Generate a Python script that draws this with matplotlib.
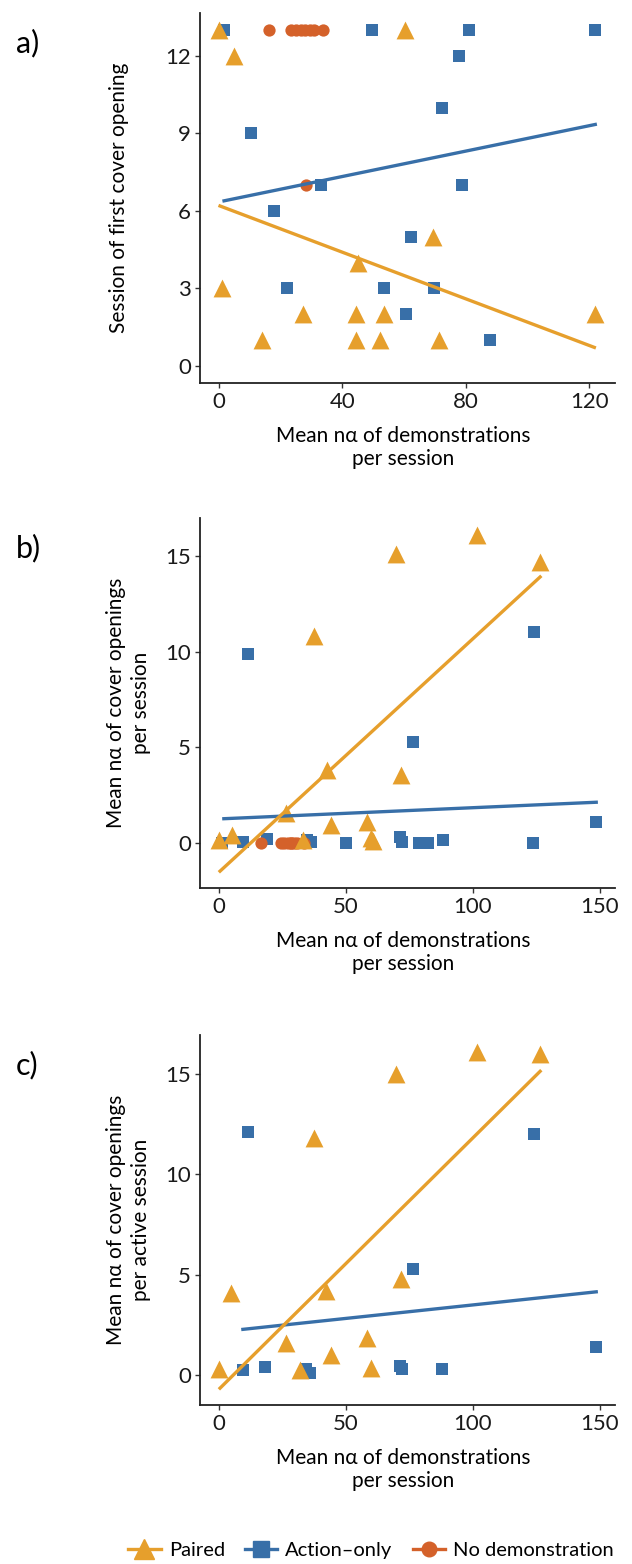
import numpy as np
import matplotlib.pyplot as plt
from matplotlib.lines import Line2D

plt.rcParams['font.family'] = ['Lato', 'DejaVu Sans']

PAIRED = '#E69F2C'
ACTION = '#386FA8'
NODEMO = '#D4612A'

# ---- panel a: session of first cover opening ----
a_paired_x = [0, 5, 1, 14, 27.3, 44.3, 45, 44.3, 53.4, 52.3, 60.5, 69.4, 71.2, 122]
a_paired_y = [13, 12, 3, 1, 2, 2, 4, 1, 2, 1, 13, 5, 1, 2]
a_action_x = [1.7, 10.4, 18, 22, 33.2, 49.6, 53.6, 60.8, 62.2, 69.8, 72.3, 78, 78.8, 81, 87.9, 122]
a_action_y = [13, 9, 6, 3, 7, 13, 3, 2, 5, 3, 10, 12, 7, 13, 1, 13]
a_nodemo_x = [16.3, 23.5, 25, 26.5, 28, 29.5, 31, 33.8, 28.4]
a_nodemo_y = [13, 13, 13, 13, 13, 13, 13, 13, 7]
a_fit_paired = ([0.4, 121.7], [6.19, 0.71])
a_fit_action = ([1.7, 122], [6.39, 9.35])

# ---- panel b: openings per session ----
b_paired_x = [0, 5.2, 26.3, 33, 37.7, 42.7, 44.3, 58.5, 59.8, 60.9, 70, 71.7, 101.7, 126.6]
b_paired_y = [0.17, 0.43, 1.56, 0.17, 10.8, 3.8, 0.95, 1.1, 0.26, 0.09, 15.1, 3.55, 16.1, 14.7]
b_action_x = [1.3, 9.5, 11.7, 19, 34.8, 36.4, 50.2, 71.2, 72.2, 79, 82.3, 88.3, 76.4, 123.9, 124.2, 148.7]
b_action_y = [0, 0.03, 9.9, 0.2, 0.14, 0.03, 0, 0.3, 0.03, 0, 0, 0.17, 5.3, 0, 11, 1.1]
b_nodemo_x = [16.6, 24.4, 25.8, 27.2, 28.4, 29.5, 31, 33.5, 28.6]
b_nodemo_y = [0, 0, 0, 0, 0, 0, 0, 0, 0]
b_fit_paired = ([0.5, 126.6], [-1.47, 13.9])
b_fit_action = ([2, 148.7], [1.27, 2.13])

# ---- panel c: openings per active session ----
c_paired_x = [0, 5, 26.3, 32, 37.7, 42.4, 44.3, 58.5, 59.8, 70, 71.7, 101.7, 126.6]
c_paired_y = [0.3, 4.1, 1.57, 0.23, 11.8, 4.2, 1.0, 1.83, 0.35, 15.0, 4.76, 16.1, 16.0]
c_action_x = [9.5, 11.6, 18.4, 34.3, 36.1, 71.2, 72, 76.4, 88.1, 124.2, 148.7]
c_action_y = [0.23, 12.1, 0.4, 0.3, 0.09, 0.44, 0.3, 5.3, 0.3, 12.0, 1.38]
c_fit_paired = ([0.5, 126.6], [-0.66, 15.13])
c_fit_action = ([9.5, 148.7], [2.27, 4.14])

xlabel = 'Mean n\u03b1 of demonstrations\nper session'

panels = [
    dict(tag='a)', pos=13, paired=(a_paired_x, a_paired_y), action=(a_action_x, a_action_y),
         nodemo=(a_nodemo_x, a_nodemo_y), fits=(a_fit_paired, a_fit_action),
         xlim=(-6.1, 128.4), ylim=(-0.67, 13.67), xticks=[0, 40, 80, 120], yticks=[0, 3, 6, 9, 12],
         ylabel='Session of first cover opening', ylx=-0.172),
    dict(tag='b)', pos=518, paired=(b_paired_x, b_paired_y), action=(b_action_x, b_action_y),
         nodemo=(b_nodemo_x, b_nodemo_y), fits=(b_fit_paired, b_fit_action),
         xlim=(-7.4, 156.1), ylim=(-2.35, 16.98), xticks=[0, 50, 100, 150], yticks=[0, 5, 10, 15],
         ylabel='Mean n\u03b1 of cover openings\nper session', ylx=-0.118),
    dict(tag='c)', pos=1035, paired=(c_paired_x, c_paired_y), action=(c_action_x, c_action_y),
         nodemo=None, fits=(c_fit_paired, c_fit_action),
         xlim=(-7.4, 156.1), ylim=(-1.5, 16.94), xticks=[0, 50, 100, 150], yticks=[0, 5, 10, 15],
         ylabel='Mean n\u03b1 of cover openings\nper active session', ylx=-0.118),
]

W, H = 632, 1564
fig = plt.figure(figsize=(W / 100, H / 100), dpi=100)

for p in panels:
    top = p['pos']
    ax = fig.add_axes([200 / W, 1 - (top + 370) / H, 415 / W, 370 / H])
    ax.scatter(*p['action'], marker='s', s=85, color=ACTION, linewidths=0, zorder=2)
    if p['nodemo'] is not None:
        ax.scatter(*p['nodemo'], marker='o', s=78, color=NODEMO, linewidths=0, zorder=3)
    ax.scatter(*p['paired'], marker='^', s=165, color=PAIRED, linewidths=0, zorder=4)
    fp, fa = p['fits']
    ax.plot(*fa, color=ACTION, lw=2.4, zorder=5)
    ax.plot(*fp, color=PAIRED, lw=2.4, zorder=5)

    ax.set_xlim(*p['xlim'])
    ax.set_ylim(*p['ylim'])
    ax.set_xticks(p['xticks'])
    ax.set_yticks(p['yticks'])
    for s in ['top', 'right']:
        ax.spines[s].set_visible(False)
    for s in ['left', 'bottom']:
        ax.spines[s].set_linewidth(1.3)
        ax.spines[s].set_color('#222222')
    ax.tick_params(labelsize=16, length=3.5, width=1, color='#333333', labelcolor='#1a1a1a', pad=3)

    ax.set_xlabel(xlabel, fontsize=15, linespacing=1.2)
    ax.xaxis.set_label_coords(0.49, -0.115)
    ax.set_ylabel(p['ylabel'], fontsize=15, linespacing=1.3)
    ax.yaxis.set_label_coords(p['ylx'], 0.5)

    fig.text(16 / W, 1 - (top + 30) / H, p['tag'], fontsize=22, va='center', ha='left')

handles = [
    Line2D([], [], color=PAIRED, lw=2.4, marker='^', markersize=15, label='Paired'),
    Line2D([], [], color=ACTION, lw=2.4, marker='s', markersize=11, label='Action\u2013only'),
    Line2D([], [], color=NODEMO, lw=2.4, marker='o', markersize=10.5, label='No demonstration'),
]
fig.legend(handles=handles, loc='center', bbox_to_anchor=(371 / W, 1 - 1550 / H), ncol=3,
           frameon=False, fontsize=14.5, handlelength=1.6, handletextpad=0.4, columnspacing=1.0,
           borderaxespad=0, borderpad=0)

fig.savefig('out.png', dpi=100, facecolor='white')
